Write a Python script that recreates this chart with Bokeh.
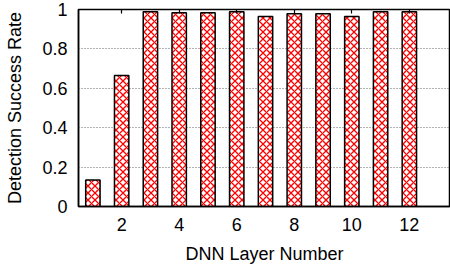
from bokeh.plotting import figure
from bokeh.models import FixedTicker, LinearAxis, Range1d, ColumnDataSource
from bokeh.embed import file_html
from bokeh.resources import INLINE

layers = [1, 2, 3, 4, 5, 6, 7, 8, 9, 10, 11, 12]
rates = [0.134, 0.665, 0.989, 0.983, 0.983, 0.988, 0.965, 0.978, 0.978, 0.965, 0.988, 0.988]
x_ticks = [2, 4, 6, 8, 10, 12]
y_ticks = [0, 0.2, 0.4, 0.6, 0.8, 1]
y_tick_labels = ["0", "0.2", "0.4", "0.6", "0.8", "1"]

FONT = "Liberation Sans"
FS = "18px"

p = figure(width=450, height=266, output_backend="svg", toolbar_location=None,
           x_range=Range1d(0.5, 13.43), y_range=Range1d(0, 1),
           min_border_left=78, min_border_right=0, min_border_top=9, min_border_bottom=56)
p.background_fill_color = "white"
p.border_fill_color = "white"
p.outline_line_color = "black"
p.outline_line_width = 1.5

src = ColumnDataSource(dict(x=layers, top=rates))
p.vbar(x="x", top="top", width=0.5, bottom=0, source=src,
       fill_color="white", line_color="black", line_width=1.5,
       hatch_pattern="diagonal_cross", hatch_color="#ff0000", hatch_scale=7, hatch_weight=1.3)

p.xgrid.visible = False
p.ygrid.grid_line_color = "#666666"
p.ygrid.grid_line_dash = "1 2"
p.ygrid.grid_line_width = 1

xa = p.xaxis[0]
xa.ticker = FixedTicker(ticks=x_ticks)
xa.major_tick_in = 0
xa.major_tick_out = 0
xa.minor_tick_line_color = None
xa.axis_line_color = "black"
xa.axis_line_width = 1.5
xa.major_label_text_font = FONT
xa.major_label_text_font_size = FS
xa.major_label_text_color = "black"
xa.major_label_standoff = 11
xa.axis_label = "DNN Layer Number"
xa.axis_label_text_font = FONT
xa.axis_label_text_font_size = FS
xa.axis_label_text_font_style = "normal"
xa.axis_label_text_color = "black"
xa.axis_label_standoff = 10

ya = p.yaxis[0]
ya.ticker = FixedTicker(ticks=y_ticks)
ya.major_label_overrides = {t: l for t, l in zip(y_ticks, y_tick_labels)}
ya.major_tick_in = 0
ya.major_tick_out = 0
ya.minor_tick_line_color = None
ya.axis_line_color = "black"
ya.axis_line_width = 1.5
ya.major_label_text_font = FONT
ya.major_label_text_font_size = FS
ya.major_label_text_color = "black"
ya.major_label_standoff = 11
ya.axis_label = "Detection Success Rate"
ya.axis_label_text_font = FONT
ya.axis_label_text_font_size = FS
ya.axis_label_text_font_style = "normal"
ya.axis_label_text_color = "black"
ya.axis_label_standoff = 14

# mirrored tick marks on the top edge (no labels)
top_ax = LinearAxis(ticker=FixedTicker(ticks=x_ticks), axis_line_color=None,
                    major_tick_in=4, major_tick_out=0, major_tick_line_color="black",
                    major_tick_line_width=1.2, minor_tick_line_color=None,
                    major_label_overrides={t: "" for t in x_ticks},
                    major_label_text_font_size="1px", major_label_standoff=0)
p.add_layout(top_ax, "above")

open("out.html", "w").write(file_html(p, INLINE))
